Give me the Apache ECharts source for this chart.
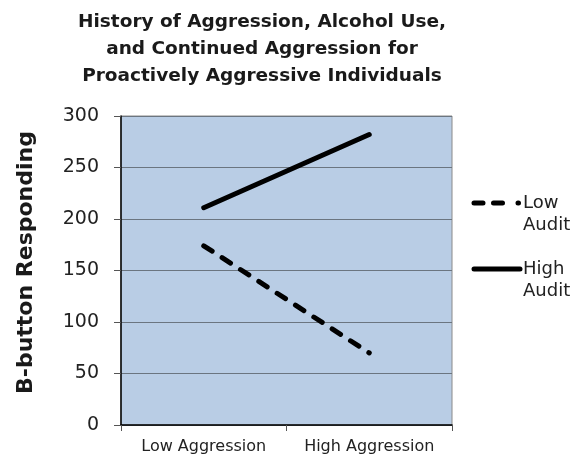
<!DOCTYPE html>
<html>
<head>
<meta charset="utf-8">
<script src="https://cdn.jsdelivr.net/npm/echarts@6/dist/echarts.min.js"></script>
<style>
  html, body { margin: 0; padding: 0; background: #fff; }
  #chart { width: 585px; height: 457px; }
</style>
</head>
<body>
<div id="chart"></div>
<script>
// Conditions along the x axis
const categories = ['Low Aggression', 'High Aggression'];
// B-button responding per audit group
const lowAudit = [174, 70];
const highAudit = [211, 282];
// Value axis range
const yMin = 0, yMax = 300, yStep = 50;

const FONT = '"DejaVu Sans", Verdana, sans-serif';

const chart = echarts.init(document.getElementById('chart'), null, { renderer: 'canvas' });

// Legend: drawn sample lines with two-line labels
function legendItem(y, dash, x2, line1, line2) {
  return {
    type: 'group',
    children: [
      {
        type: 'line',
        shape: { x1: 474, y1: y, x2: x2, y2: y },
        style: {
          stroke: '#000', lineWidth: 5, lineCap: 'round',
          lineDash: dash
        }
      },
      {
        type: 'text',
        x: 523, y: y - 11,
        style: {
          text: line1 + '\n' + line2, fill: '#222',
          font: '18px ' + FONT, lineHeight: 22,
          verticalAlign: 'top', align: 'left'
        }
      }
    ]
  };
}

chart.setOption({
  backgroundColor: '#ffffff',
  animation: false,
  title: {
    text: 'History of Aggression, Alcohol Use,\nand Continued Aggression for\nProactively Aggressive Individuals',
    left: 257,
    textAlign: 'center',
    top: 4,
    textStyle: {
      fontFamily: FONT, fontWeight: 'bold', fontSize: 18.5,
      lineHeight: 27, color: '#1a1a1a'
    }
  },
  grid: {
    left: 121, right: 133, top: 116, bottom: 32,
    show: true, backgroundColor: '#b9cde5',
    borderColor: '#8a8a8a', borderWidth: 1
  },
  xAxis: {
    type: 'category',
    data: categories,
    boundaryGap: true,
    axisLine: { lineStyle: { color: '#000', width: 1.5 } },
    axisTick: { show: true, interval: 0, length: 6, lineStyle: { color: '#555' } },
    axisLabel: { interval: 0, fontFamily: FONT, fontSize: 16, color: '#222', margin: 14 }
  },
  yAxis: {
    type: 'value',
    min: yMin, max: yMax, interval: yStep,
    name: 'B-button Responding',
    nameLocation: 'middle',
    nameGap: 84,
    nameTextStyle: {
      fontFamily: FONT, fontWeight: 'bold', fontSize: 22, color: '#1a1a1a',
      padding: [0, 0, 0, 16]
    },
    axisLine: { show: true, lineStyle: { color: '#000', width: 1.5 } },
    axisTick: { show: true, length: 7, lineStyle: { color: '#555' } },
    axisLabel: { fontFamily: FONT, fontSize: 19, color: '#222', margin: 22 },
    splitLine: { show: true, lineStyle: { color: '#6b7580', width: 1 } }
  },
  series: [
    {
      name: 'Low Audit',
      type: 'line',
      data: lowAudit,
      symbol: 'none',
      lineStyle: { color: '#000', width: 5, type: [10, 11.85], cap: 'round' }
    },
    {
      name: 'High Audit',
      type: 'line',
      data: highAudit,
      symbol: 'none',
      lineStyle: { color: '#000', width: 5, cap: 'round' }
    }
  ],
  graphic: [
    legendItem(203, [9, 10.5, 9, 15.5], 518.5, 'Low', 'Audit'),
    legendItem(269, null, 520, 'High', 'Audit')
  ]
});
</script>
</body>
</html>
